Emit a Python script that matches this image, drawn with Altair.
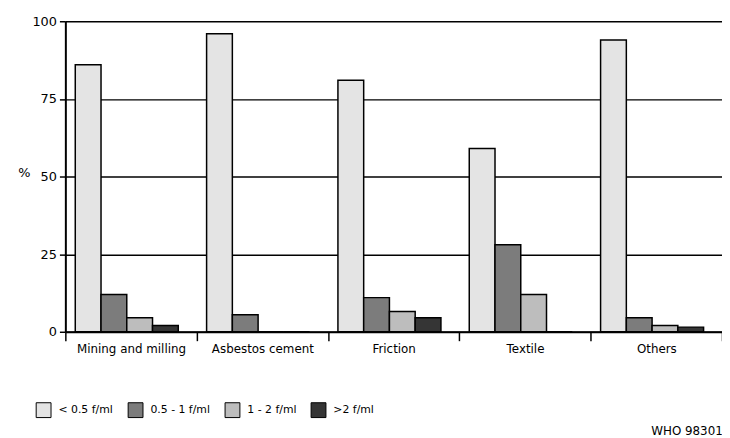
import altair as alt
import pandas as pd

categories = ["Mining and milling", "Asbestos cement", "Friction", "Textile", "Others"]
series = ["< 0.5 f/ml", "0.5 - 1 f/ml", "1 - 2 f/ml", ">2 f/ml"]
lt_05 = [86, 96, 81, 59, 94]
b05_1 = [12, 5.5, 11, 28, 4.5]
b1_2 = [4.5, 0, 6.5, 12, 2]
gt_2 = [2, 0, 4.5, 0, 1.5]

values = [lt_05, b05_1, b1_2, gt_2]
rows = []
for s, vals in zip(series, values):
    for c, v in zip(categories, vals):
        rows.append({"category": c, "series": s, "value": v})
df = pd.DataFrame(rows)

fills = ["#e4e4e4", "#7c7c7c", "#bdbdbd", "#353535"]
FONT = "DejaVu Sans"

chart = alt.Chart(df).mark_bar(stroke="black", strokeWidth=1.5).encode(
    x=alt.X("category:N", sort=categories,
            scale=alt.Scale(paddingInner=0, paddingOuter=0),
            axis=alt.Axis(title=None, labelAngle=0, tickBand="extent", tickSize=9,
                          tickColor="black", tickWidth=1.5, domainColor="black",
                          domainWidth=2, labelFontSize=12, labelColor="black",
                          labelPadding=3, labelFont=FONT)),
    xOffset=alt.XOffset("series:N", sort=series,
                        scale=alt.Scale(paddingInner=0, paddingOuter=0.55, align=0.35)),
    y=alt.Y("value:Q", scale=alt.Scale(domain=[0, 100], nice=False),
            axis=alt.Axis(title="%", titleAngle=0, titleX=-42, titleY=160,
                          titleFontSize=13, titleFontWeight="normal", titleColor="black",
                          titleFont=FONT,
                          values=[0, 25, 50, 75, 100], grid=True, gridColor="black",
                          gridWidth=1.5, tickSize=6, tickColor="black", tickWidth=1.5,
                          domainColor="black", domainWidth=2, labelFontSize=13,
                          labelColor="black", labelFont=FONT, labelPadding=3)),
    fill=alt.Fill("series:N", sort=series,
                  scale=alt.Scale(domain=series, range=fills),
                  legend=alt.Legend(title=None, orient="none", legendX=-30, legendY=385,
                                    direction="horizontal", symbolType="square",
                                    symbolSize=225, symbolStrokeColor="black",
                                    symbolStrokeWidth=1, labelFontSize=11,
                                    labelFont=FONT, labelColor="black",
                                    labelOffset=7, columnPadding=12)),
).properties(
    width=664, height=314,
    title=alt.TitleParams("WHO 98301", orient="bottom", anchor="end", fontSize=12,
                          fontWeight="normal", font=FONT, color="black", offset=6),
    autosize=alt.AutoSizeParams(type="none"),
    padding={"left": 58, "top": 11, "right": 0, "bottom": 105},
).configure_view(stroke=None)

chart.save("out.html", embed_options={"renderer": "svg", "actions": False})
